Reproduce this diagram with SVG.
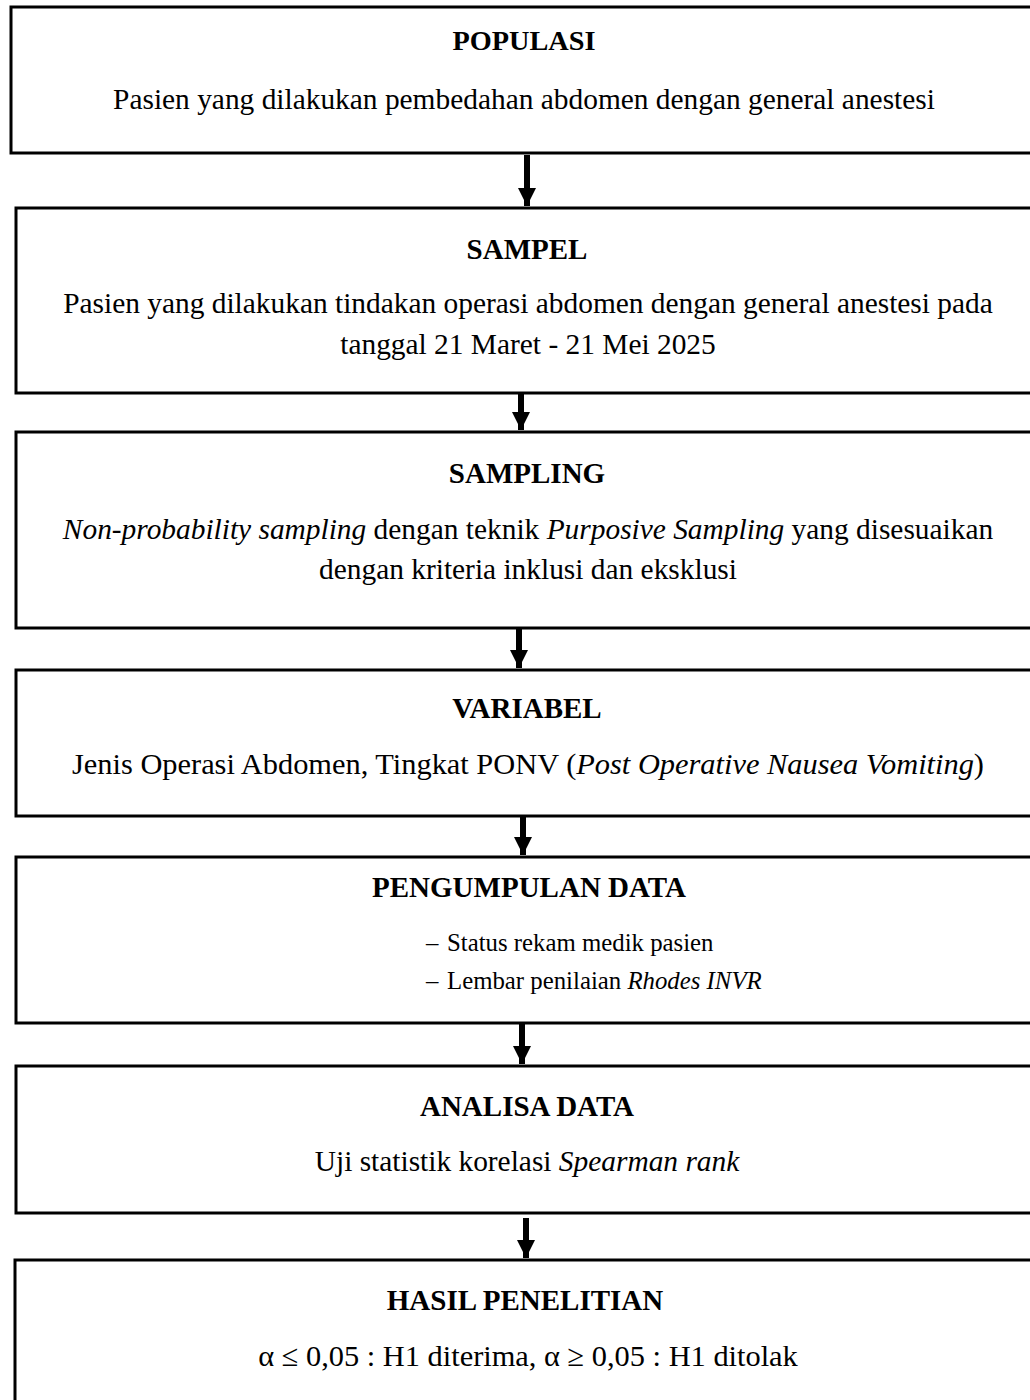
<svg xmlns="http://www.w3.org/2000/svg" width="1030" height="1400" viewBox="0 0 1030 1400">
<style>
.box{fill:#fff;stroke:#000;stroke-width:3}
text{font-family:"Liberation Serif","Times New Roman",serif;font-size:29.4px;fill:#000;text-anchor:middle}
.t{font-weight:bold;font-size:29px}
.l{text-anchor:start;font-size:24.8px}
.big{font-size:30.4px}
.conn line{stroke:#000;stroke-width:6}
</style>
<defs>
<marker id="ah" markerWidth="3" markerHeight="3" refX="3" refY="1.5" orient="auto" markerUnits="strokeWidth" viewBox="0 0 3 3">
<path d="M0,0 L3,1.5 L0,3 Z" fill="#000"/>
</marker>
</defs>
<rect width="1030" height="1400" fill="#fff"/>
<g id="populasi">
<rect class="box" x="11" y="7" width="1030" height="146"/>
<text class="t" x="524" y="50" style="font-size:28.3px">POPULASI</text>
<text x="524" y="109">Pasien yang dilakukan pembedahan abdomen dengan general anestesi</text>
</g>
<g id="sampel">
<rect class="box" x="16" y="208" width="1030" height="185"/>
<text class="t" x="527" y="259">SAMPEL</text>
<text x="528" y="313">Pasien yang dilakukan tindakan operasi abdomen dengan general anestesi pada</text>
<text x="528" y="354">tanggal 21 Maret - 21 Mei 2025</text>
</g>
<g id="sampling">
<rect class="box" x="16" y="432" width="1030" height="196"/>
<text class="t" x="527" y="483">SAMPLING</text>
<text x="528" y="539"><tspan font-style="italic">Non-probability sampling</tspan> dengan teknik <tspan font-style="italic">Purposive Sampling</tspan> yang disesuaikan</text>
<text x="528" y="579">dengan kriteria inklusi dan eksklusi</text>
</g>
<g id="variabel">
<rect class="box" x="16" y="670" width="1030" height="146"/>
<text class="t" x="527" y="718">VARIABEL</text>
<text class="big" x="528" y="774">Jenis Operasi Abdomen, Tingkat PONV (<tspan font-style="italic">Post Operative Nausea Vomiting</tspan>)</text>
</g>
<g id="pengumpulan">
<rect class="box" x="16" y="857" width="1030" height="166"/>
<text class="t" x="529" y="897">PENGUMPULAN DATA</text>
<text class="l" x="426" y="951">–</text>
<text class="l" x="447" y="951">Status rekam medik pasien</text>
<text class="l" x="426" y="989">–</text>
<text class="l" x="447" y="989">Lembar penilaian <tspan font-style="italic">Rhodes INVR</tspan></text>
</g>
<g id="analisa">
<rect class="box" x="16" y="1066" width="1030" height="147"/>
<text class="t" x="527" y="1116">ANALISA DATA</text>
<text x="527" y="1171">Uji statistik korelasi <tspan font-style="italic">Spearman rank</tspan></text>
</g>
<g id="hasil">
<rect class="box" x="15" y="1260" width="1030" height="160"/>
<text class="t" x="525" y="1310">HASIL PENELITIAN</text>
<text class="big" x="528" y="1366">α ≤ 0,05 : H1 diterima, α ≥ 0,05 : H1 ditolak</text>
</g>
<g id="connectors" class="conn">
<line x1="527" y1="155" x2="527" y2="206" marker-end="url(#ah)"/>
<line x1="521" y1="394" x2="521" y2="430" marker-end="url(#ah)"/>
<line x1="519" y1="629" x2="519" y2="668" marker-end="url(#ah)"/>
<line x1="523" y1="817" x2="523" y2="855" marker-end="url(#ah)"/>
<line x1="522" y1="1024" x2="522" y2="1064" marker-end="url(#ah)"/>
<line x1="526" y1="1218" x2="526" y2="1258" marker-end="url(#ah)"/>
</g>
</svg>
